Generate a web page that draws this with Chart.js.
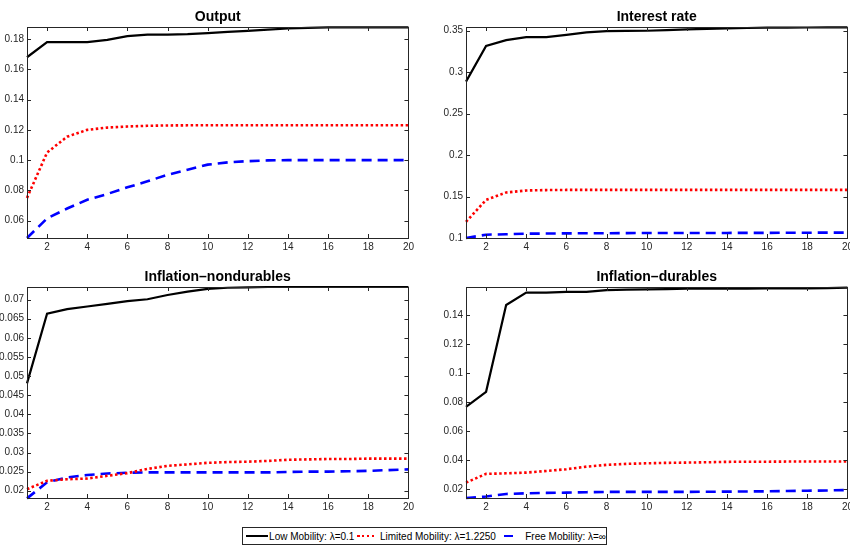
<!DOCTYPE html>
<html>
<head>
<meta charset="utf-8">
<script src="https://cdn.jsdelivr.net/npm/chart.js@4"></script>
<style>
  html, body { margin: 0; padding: 0; background: #fff; overflow: hidden; width: 850px; height: 547px; }
  canvas { position: absolute; }
  #legend {
    position: absolute; left: 242px; top: 527px; width: 363px; height: 16px;
    border: 1px solid #262626; background: #fff;
    font: 10px "Liberation Sans", Arial, sans-serif; color: #000;
    display: flex; align-items: center; white-space: nowrap;
  }
  #legend .s { display: inline-block; height: 2px; }
</style>
</head>
<body>
<canvas id="outputChart" width="417" height="254" style="left:0;top:0"></canvas>
<canvas id="rateChart" width="417" height="254" style="left:439px;top:0"></canvas>
<canvas id="nondurChart" width="417" height="254" style="left:0;top:260px"></canvas>
<canvas id="durChart" width="417" height="254" style="left:439px;top:260px"></canvas>
<div id="legend">
  <span class="s" style="width:25px;margin:0 1px 0 3px;background:#000"></span>Low Mobility: λ=0.1
  <span class="s" style="width:21px;margin:0 4px 0 3px;background:repeating-linear-gradient(90deg,#f00 0 2.5px,transparent 2.5px 5px)"></span>Limited Mobility: λ=1.2250
  <span class="s" style="width:23px;margin:0 1px 0 8px;background:linear-gradient(90deg,#00f 0 9px,transparent 9px 20px,#00f 20px 23px)"></span>Free Mobility: λ=∞
</div>
<script>
const primary = "#000000";
const secondary = "#ff0000";
const tertiary = "#0000ff";

const steps = [1, 2, 3, 4, 5, 6, 7, 8, 9, 10, 11, 12, 13, 14, 15, 16, 17, 18, 19, 20];
const xTicks = [2, 4, 6, 8, 10, 12, 14, 16, 18, 20];

// Output
const outputLow = [0.168, 0.178, 0.178, 0.178, 0.1795, 0.182, 0.183, 0.183, 0.1833, 0.184, 0.1848, 0.1855, 0.1862, 0.187, 0.1874, 0.1877, 0.1878, 0.1878, 0.1878, 0.1878];
const outputLimited = [0.075, 0.105, 0.1155, 0.12, 0.1215, 0.1222, 0.1227, 0.1229, 0.123, 0.123, 0.123, 0.123, 0.123, 0.123, 0.123, 0.123, 0.123, 0.123, 0.123, 0.123];
const outputFree = [0.0485, 0.0615, 0.068, 0.0738, 0.0776, 0.082, 0.086, 0.0903, 0.0936, 0.097, 0.0985, 0.0993, 0.0998, 0.1, 0.1, 0.1, 0.1, 0.1, 0.1, 0.1];
const outputTicks = [0.06, 0.08, 0.1, 0.12, 0.14, 0.16, 0.18];

// Interest rate
const rateLow = [0.2886, 0.3317, 0.3386, 0.3423, 0.3423, 0.3451, 0.348, 0.3496, 0.3498, 0.35, 0.3508, 0.3516, 0.3522, 0.3528, 0.3533, 0.3537, 0.3538, 0.3539, 0.354, 0.354];
const rateLimited = [0.1195, 0.146, 0.1549, 0.1573, 0.1578, 0.158, 0.158, 0.158, 0.158, 0.158, 0.158, 0.158, 0.158, 0.158, 0.158, 0.158, 0.158, 0.158, 0.158, 0.158];
const rateFree = [0.1, 0.104, 0.1045, 0.1052, 0.1054, 0.1056, 0.1057, 0.1058, 0.1059, 0.106, 0.106, 0.106, 0.1061, 0.1061, 0.1062, 0.1062, 0.1063, 0.1064, 0.1065, 0.1065];
const rateTicks = [0.1, 0.15, 0.2, 0.25, 0.3, 0.35];

// Inflation-nondurables
const nondurLow = [0.0481, 0.0663, 0.0675, 0.0682, 0.0689, 0.0696, 0.0701, 0.0712, 0.0721, 0.0728, 0.0731, 0.0732, 0.0733, 0.0733, 0.0733, 0.0733, 0.0733, 0.0733, 0.0733, 0.0733];
const nondurLimited = [0.0204, 0.0226, 0.023, 0.0232, 0.0239, 0.0246, 0.0257, 0.0265, 0.0269, 0.0273, 0.0275, 0.0276, 0.0278, 0.0281, 0.0282, 0.0283, 0.0283, 0.0284, 0.0284, 0.0284];
const nondurFree = [0.018, 0.0222, 0.0235, 0.0241, 0.0245, 0.0247, 0.0248, 0.0248, 0.0248, 0.0248, 0.0248, 0.0248, 0.0248, 0.0249, 0.025, 0.025, 0.0251, 0.0252, 0.0254, 0.0256];
const nondurTicks = [0.02, 0.025, 0.03, 0.035, 0.04, 0.045, 0.05, 0.055, 0.06, 0.065, 0.07];

// Inflation-durables
const durLow = [0.0768, 0.0871, 0.1469, 0.1554, 0.1554, 0.1559, 0.1559, 0.1572, 0.1575, 0.1577, 0.1579, 0.1582, 0.1582, 0.1582, 0.1582, 0.1583, 0.1583, 0.1583, 0.1585, 0.1589];
const durLimited = [0.0246, 0.0306, 0.031, 0.0315, 0.0326, 0.0338, 0.0356, 0.0368, 0.0375, 0.0379, 0.0382, 0.0384, 0.0386, 0.0389, 0.039, 0.039, 0.0391, 0.0391, 0.0391, 0.0391];
const durFree = [0.014, 0.015, 0.0168, 0.0172, 0.0175, 0.0177, 0.018, 0.0182, 0.0182, 0.0182, 0.0182, 0.0182, 0.0183, 0.0184, 0.0185, 0.0186, 0.0188, 0.019, 0.0192, 0.0195];
const durTicks = [0.02, 0.04, 0.06, 0.08, 0.1, 0.12, 0.14];

const axisColor = "#262626";
const fontFamily = "'Liberation Sans', Arial, sans-serif";
const tickFont = { family: fontFamily, size: 10 };

// matlab style box with inward ticks on all sides, title centred over the plot area
const boxTicks = {
    id: 'boxTicks',
    afterDraw(chart, args, opts) {
        const { ctx, chartArea: a, scales: { x, y } } = chart;
        ctx.save();
        ctx.strokeStyle = axisColor;
        ctx.lineWidth = 1;
        ctx.strokeRect(Math.round(a.left) + 0.5, Math.round(a.top) + 0.5, Math.round(a.right - a.left), Math.round(a.bottom - a.top));
        ctx.beginPath();
        x.ticks.forEach(t => {
            const px = Math.round(x.getPixelForValue(t.value)) + 0.5;
            ctx.moveTo(px, a.bottom); ctx.lineTo(px, a.bottom - 4);
            ctx.moveTo(px, a.top); ctx.lineTo(px, a.top + 4);
        });
        y.ticks.forEach(t => {
            const py = Math.round(y.getPixelForValue(t.value)) + 0.5;
            ctx.moveTo(a.left, py); ctx.lineTo(a.left + 4, py);
            ctx.moveTo(a.right, py); ctx.lineTo(a.right - 4, py);
        });
        ctx.stroke();
        ctx.fillStyle = '#000';
        ctx.font = 'bold 14px ' + fontFamily;
        ctx.textAlign = 'center';
        ctx.textBaseline = 'alphabetic';
        ctx.fillText(opts.title, (a.left + a.right) / 2, 21);
        ctx.restore();
    }
};

function series(values) {
    return values.map((v, i) => ({ x: steps[i], y: v }));
}

function makeChart(id, title, low, limited, free, yTicks, yMin, yMax) {
    return new Chart(document.getElementById(id), {
        type: 'line',
        data: {
            datasets: [
                { data: series(low), borderColor: primary, borderWidth: 2.2, pointRadius: 0, clip: 3 },
                { data: series(limited), borderColor: secondary, borderWidth: 2.6, borderDash: [2.5, 2.5], pointRadius: 0, clip: 3 },
                { data: series(free), borderColor: tertiary, borderWidth: 2.6, borderDash: [10, 6], pointRadius: 0, clip: 3 }
            ]
        },
        options: {
            responsive: false,
            animation: false,
            layout: { padding: { top: 27, right: 8, bottom: 0, left: 0 } },
            plugins: {
                legend: false,
                tooltip: { enabled: false },
                title: { display: false },
                boxTicks: { title: title }
            },
            scales: {
                x: {
                    type: 'linear',
                    min: 1,
                    max: 20,
                    grid: { display: false, drawTicks: false },
                    border: { display: false },
                    ticks: { color: axisColor, font: tickFont, padding: 3, maxRotation: 0, autoSkip: false, callback: v => String(v) },
                    afterBuildTicks: axis => { axis.ticks = xTicks.map(v => ({ value: v })); },
                    afterFit: axis => { axis.height = 16; }
                },
                y: {
                    min: yMin,
                    max: yMax,
                    grid: { display: false, drawTicks: false },
                    border: { display: false },
                    ticks: { color: axisColor, font: tickFont, padding: 3, autoSkip: false, callback: v => String(v) },
                    afterBuildTicks: axis => { axis.ticks = yTicks.map(v => ({ value: v })); },
                    afterFit: axis => { axis.width = 27; }
                }
            }
        },
        plugins: [boxTicks]
    });
}

const outputChart = makeChart('outputChart', 'Output', outputLow, outputLimited, outputFree, outputTicks, 0.0485, 0.188);
const rateChart = makeChart('rateChart', 'Interest rate', rateLow, rateLimited, rateFree, rateTicks, 0.1, 0.3545);
const nondurChart = makeChart('nondurChart', 'Inflation\u2013nondurables', nondurLow, nondurLimited, nondurFree, nondurTicks, 0.0181, 0.0733);
const durChart = makeChart('durChart', 'Inflation\u2013durables', durLow, durLimited, durFree, durTicks, 0.014, 0.1593);
</script>
</body>
</html>
